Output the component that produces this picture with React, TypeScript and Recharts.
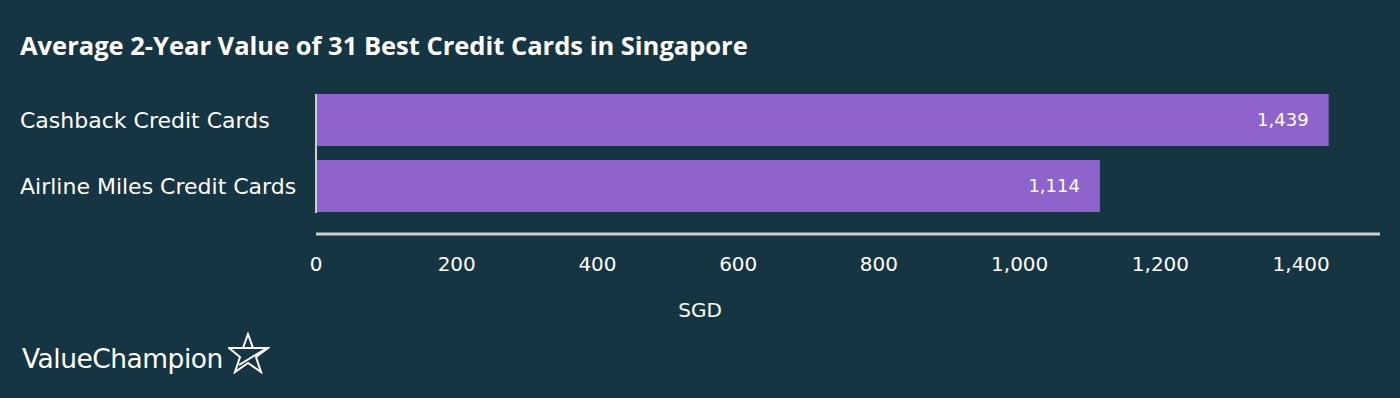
import React from 'react';
import { BarChart, Bar, XAxis, YAxis, LabelList } from 'recharts';

const categories: string[] = ['Cashback Credit Cards', 'Airline Miles Credit Cards'];
const values: number[] = [1439, 1114];
const xTicks: number[] = [0, 200, 400, 600, 800, 1000, 1200, 1400];
const xDomainMax = 1512;
const title = 'Average 2-Year Value of 31 Best Credit Cards in Singapore';
const axisTitle = 'SGD';
const brand = 'ValueChampion';

const BG = '#163543';
const BAR = '#8e63cb';
const LABEL_FONT = '"DejaVu Sans", "Open Sans", sans-serif';

const data = categories.map((name, i) => ({ name, value: values[i] }));

const fmt = (v: number) => Number(v).toLocaleString('en-US');

const CategoryTick = (props: any) => {
  const { y, payload } = props;
  return (
    <text x={20} y={y} dy="0.35em" fill="#ffffff" fontSize={22} fontFamily={LABEL_FONT} textAnchor="start">
      {payload.value}
    </text>
  );
};

const Star = () => (
  <svg width="42" height="42" viewBox="0 0 42 42" style={{ position: 'absolute', left: 228, top: 332 }}>
    <polygon
      points="20,2 25,16 40,16 28,25 33,40 20,31 7,40 12,25 1,16 15,16"
      fill="none"
      stroke="#ffffff"
      strokeWidth="2"
      strokeLinejoin="miter"
    />
    <path d="M2 16 L39 16 L11 33" fill="none" stroke="#ffffff" strokeWidth="2" />
  </svg>
);

export default function App() {
  return (
    <div style={{ position: 'absolute', left: 0, top: 0, width: 1400, height: 398, background: BG, overflow: 'hidden' }}>
      <div
        style={{
          position: 'absolute',
          left: 20,
          top: 28,
          color: '#ffffff',
          fontFamily: '"Open Sans", sans-serif',
          fontWeight: 700,
          fontSize: 25.5,
          lineHeight: '34px',
          whiteSpace: 'nowrap',
        }}
      >
        {title}
      </div>
      <div style={{ position: 'absolute', left: 0, top: 0 }}>
        <BarChart
          width={1400}
          height={398}
          data={data}
          layout="vertical"
          margin={{ top: 87, right: 20, bottom: 84, left: 16 }}
          barSize={52}
        >
          <XAxis
            type="number"
            domain={[0, xDomainMax]}
            ticks={xTicks}
            tickFormatter={fmt}
            tickLine={false}
            axisLine={{ stroke: '#cfcfcf', strokeWidth: 3 }}
            tick={{ fill: '#ffffff', fontSize: 20, fontFamily: LABEL_FONT }}
            tickMargin={17}
            height={80}
            interval={0}
            allowDataOverflow
          />
          <YAxis
            type="category"
            dataKey="name"
            width={300}
            tickLine={false}
            axisLine={{ stroke: '#cfcfcf', strokeWidth: 2, strokeDasharray: '0 7 119 1000' }}
            tick={<CategoryTick />}
            padding={{ top: 0, bottom: 15 }}
          />
          <Bar dataKey="value" fill={BAR} isAnimationActive={false}>
            <LabelList
              dataKey="value"
              position="insideRight"
              offset={20}
              formatter={(v: any) => fmt(v)}
              fill="#ffffff"
              fontSize={18}
              fontFamily={LABEL_FONT}
            />
          </Bar>
        </BarChart>
      </div>
      <div
        style={{
          position: 'absolute',
          left: 0,
          width: 1400,
          top: 296,
          textAlign: 'center',
          color: '#ffffff',
          fontFamily: LABEL_FONT,
          fontSize: 20,
          lineHeight: '28px',
        }}
      >
        {axisTitle}
      </div>
      <div
        style={{
          position: 'absolute',
          left: 22,
          top: 342,
          color: '#ffffff',
          fontFamily: LABEL_FONT,
          fontSize: 26.5,
          lineHeight: '34px',
          letterSpacing: -0.5,
        }}
      >
        {brand}
      </div>
      <Star />
    </div>
  );
}
